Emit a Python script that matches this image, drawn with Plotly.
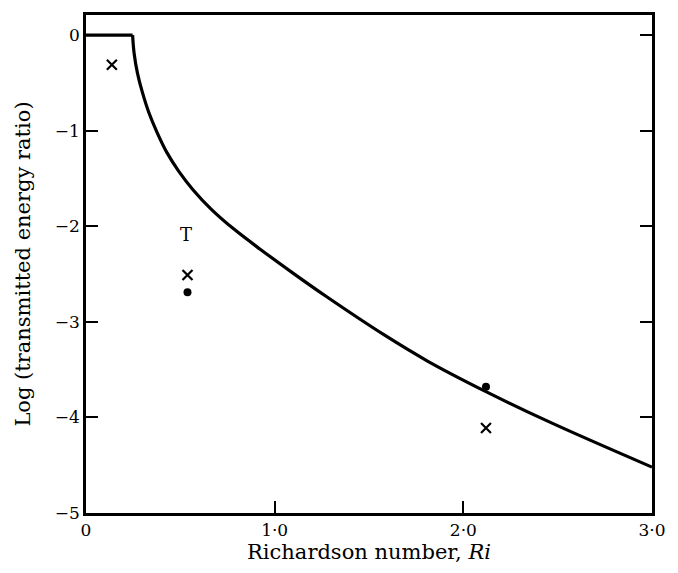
import plotly.graph_objects as go

# Theory curve (flat part + decaying part)
flat_x = [0.0, 0.247]
flat_y = [0.0, 0.0]
curve_x = [0.247, 0.255, 0.273, 0.299, 0.333, 0.377, 0.429, 0.490, 0.568, 0.663, 0.784,
           0.923, 1.097, 1.27, 1.583, 1.81, 2.12, 2.47, 3.0]
curve_y = [0.0, -0.19, -0.40, -0.60, -0.81, -1.02, -1.23, -1.42, -1.62, -1.82, -2.03,
           -2.24, -2.49, -2.73, -3.14, -3.41, -3.73, -4.06, -4.52]

# Observations
cross_x = [0.137, 0.538, 2.12]
cross_y = [-0.31, -2.51, -4.11]
dot_x = [0.538, 2.12]
dot_y = [-2.69, -3.68]

label_x = [0.53]
label_y = [-2.11]
label_text = ["T"]

x_ticks = [0, 1, 2, 3]
x_tick_labels = ["0", "1·0", "2·0", "3·0"]
y_ticks = [0, -1, -2, -3, -4, -5]
y_tick_labels = ["0", "−1", "−2", "−3", "−4", "−5"]

FONT = "DejaVu Serif"

fig = go.Figure()
fig.add_trace(go.Scatter(x=flat_x, y=flat_y, mode="lines",
                         line=dict(color="black", width=3.2), showlegend=False))
fig.add_trace(go.Scatter(x=curve_x, y=curve_y, mode="lines",
                         line=dict(color="black", width=3.2, shape="spline", smoothing=1.0),
                         showlegend=False))
fig.add_trace(go.Scatter(x=cross_x, y=cross_y, mode="markers",
                         marker=dict(symbol="x-thin", size=10, line=dict(color="black", width=2.2)),
                         showlegend=False))
fig.add_trace(go.Scatter(x=dot_x, y=dot_y, mode="markers",
                         marker=dict(symbol="circle", size=8, color="black"),
                         showlegend=False))
fig.add_trace(go.Scatter(x=label_x, y=label_y, mode="text", text=label_text,
                         textfont=dict(family=FONT, size=18, color="black"),
                         showlegend=False))

fig.update_layout(
    width=678, height=573,
    margin=dict(l=86, r=16, t=12, b=60),
    plot_bgcolor="white", paper_bgcolor="white",
    font=dict(family=FONT, size=17, color="black"),
    xaxis=dict(range=[0, 3.0], tickvals=x_ticks, ticktext=x_tick_labels,
               ticks="inside", ticklen=12, tickwidth=2, tickcolor="black",
               showline=True, linewidth=2.5, linecolor="black", mirror=True,
               showgrid=False, zeroline=False,
               title=dict(text="Richardson number, <i>Ri</i>", font=dict(size=21), standoff=5)),
    yaxis=dict(range=[-5, 0.21], tickvals=y_ticks, ticktext=y_tick_labels,
               ticks="inside", ticklen=12, tickwidth=2, tickcolor="black",
               showline=True, linewidth=2.5, linecolor="black", mirror="ticks",
               showgrid=False, zeroline=False,
               title=dict(text="Log (transmitted energy ratio)", font=dict(size=21), standoff=19)),
)

fig.write_html("out.html")
